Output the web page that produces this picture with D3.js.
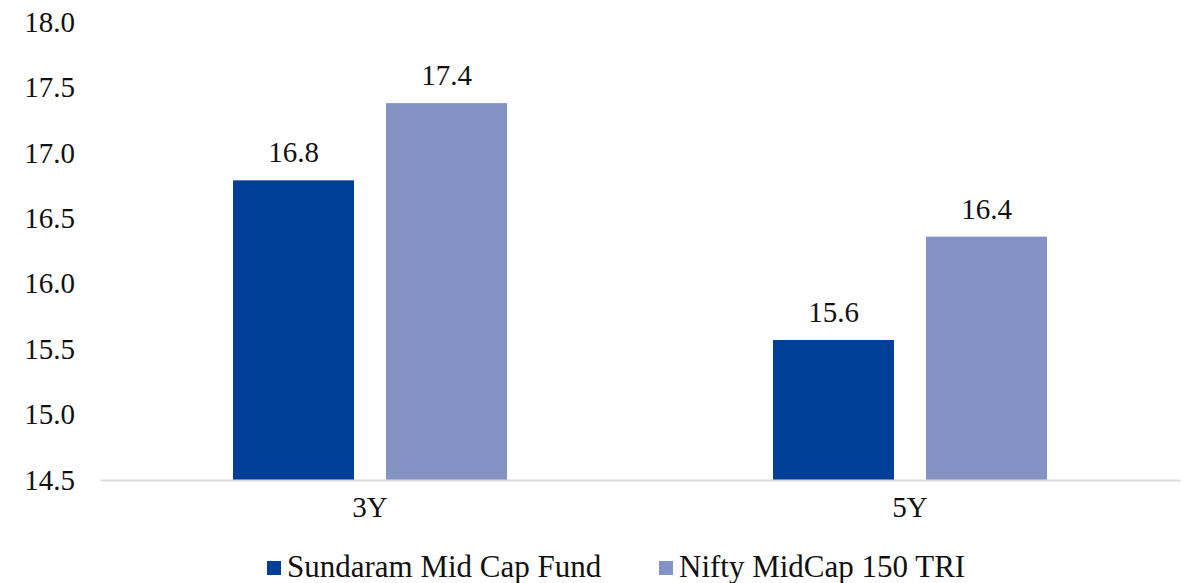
<!DOCTYPE html>
<html>
<head>
<meta charset="utf-8">
<script src="https://cdn.jsdelivr.net/npm/d3@7"></script>
<style>
  body { margin: 0; background: #fff; }
  svg text { font-family: "Liberation Serif", "DejaVu Serif", serif; fill: #111; }
</style>
</head>
<body>
<div id="chart"></div>
<script>
(function() {
  var categories = ["3Y", "5Y"]
  var seriesNames = ["Sundaram Mid Cap Fund", "Nifty MidCap 150 TRI"]
  var fundValues = [16.79, 15.57]
  var indexValues = [17.38, 16.36]
  var yTicks = [14.5, 15.0, 15.5, 16.0, 16.5, 17.0, 17.5, 18.0]

  var colors = ["#003f98", "#8492c4"]

  var width = 1190, height = 583
  var margin = { top: 22, left: 100, right: 10, bottom: 103 }

  var svg = d3.select("#chart")
    .append("svg")
    .attr("width", width)
    .attr("height", height)

  var rows = []
  categories.forEach(function(c, i) {
    rows.push({ cat: c, series: 0, value: fundValues[i] })
    rows.push({ cat: c, series: 1, value: indexValues[i] })
  })

  var xScale = d3.scaleBand().domain(categories).range([margin.left, width - margin.right])
  var yScale = d3.scaleLinear().domain([14.5, 18.0]).range([height - margin.bottom, margin.top])

  // bars: 121 wide, 32 apart, centred in each band
  var barW = 121, gap = 32
  function barX(d) {
    var center = xScale(d.cat) + xScale.bandwidth() / 2
    return center - (barW * 2 + gap) / 2 + d.series * (barW + gap)
  }

  // y axis labels only
  var yAxis = d3.axisLeft(yScale).tickValues(yTicks).tickFormat(d3.format(".1f")).tickSize(0).tickPadding(25)
  svg.append("g")
    .attr("class", "axis y-axis")
    .attr("transform", "translate(" + margin.left + ",0)")
    .call(yAxis)
    .attr("font-family", null)
    .call(function(g) { g.select(".domain").remove() })
    .selectAll("text")
    .style("font-size", "29px")
    .attr("fill", "#111")

  svg.selectAll("rect.bar")
    .data(rows)
    .enter().append("rect")
    .attr("class", "bar")
    .attr("x", barX)
    .attr("width", barW)
    .attr("y", function(d) { return yScale(d.value) })
    .attr("height", function(d) { return yScale(14.5) - yScale(d.value) })
    .attr("fill", function(d) { return colors[d.series] })

  svg.selectAll("text.value")
    .data(rows)
    .enter().append("text")
    .attr("class", "value")
    .attr("x", function(d) { return barX(d) + barW / 2 })
    .attr("y", function(d) { return yScale(d.value) - 18 })
    .attr("text-anchor", "middle")
    .style("font-size", "29px")
    .text(function(d) { return d3.format(".1f")(d.value) })

  // x axis
  var xAxis = d3.axisBottom(xScale).tickSize(0).tickPadding(16)
  svg.append("g")
    .attr("class", "axis x-axis")
    .attr("transform", "translate(0," + yScale(14.5) + ")")
    .call(xAxis)
    .attr("font-family", null)
    .call(function(g) {
      g.select(".domain").attr("stroke", "#d9d9d9").attr("stroke-width", 2)
    })
    .selectAll("text")
    .style("font-size", "29px")
    .attr("fill", "#111")

  // legend
  var legendX = [267, 659]
  var legend = svg.selectAll("g.legend")
    .data(seriesNames)
    .enter().append("g")
    .attr("class", "legend")
    .attr("transform", function(d, i) { return "translate(" + legendX[i] + ",0)" })

  legend.append("rect")
    .attr("x", 0)
    .attr("y", 561)
    .attr("width", 14)
    .attr("height", 14)
    .attr("fill", function(d, i) { return colors[i] })

  legend.append("text")
    .attr("x", 20)
    .attr("y", 577)
    .style("font-size", "31px")
    .text(function(d) { return d })
})();
</script>
</body>
</html>
